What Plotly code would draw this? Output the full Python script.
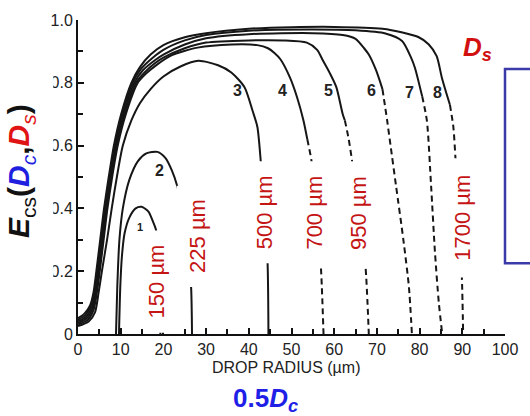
import plotly.graph_objects as go

# Collection efficiency curves E_cs vs drop radius, one per collector size (curves 1-8)
c1_x = [9.6, 9.9, 10.3, 10.9, 12.0, 13.5, 14.9, 16.5, 17.5, 18.3, 18.9, 19.2, 19.3]
c1_y = [0.0, 0.15, 0.25, 0.32, 0.37, 0.40, 0.405, 0.39, 0.36, 0.33, 0.22, 0.10, 0.0]

c2_x = [8.9, 9.2, 9.7, 10.5, 12.0, 14.0, 16.0, 18.6, 20.5, 22.0, 23.2, 24.5, 25.7, 26.5, 26.7]
c2_y = [0.0, 0.15, 0.30, 0.40, 0.49, 0.55, 0.575, 0.58, 0.56, 0.52, 0.473, 0.40, 0.28, 0.146, 0.0]

c3_x = [0, 2.5, 4.0, 4.8, 5.6, 6.8, 7.9, 9.1, 10.5, 12.5, 14.5, 17.0, 20.0, 24.0, 28.2,
        32.8, 35.9, 39.0, 40.9, 42.0, 42.8, 43.6, 44.4, 44.6]
c3_y = [0.025, 0.04, 0.07, 0.13, 0.2, 0.3, 0.4, 0.5, 0.6, 0.68, 0.735, 0.78, 0.82, 0.852, 0.87,
        0.856, 0.833, 0.786, 0.71, 0.66, 0.55, 0.4, 0.225, 0.0]

c4_x = [0, 2.3, 3.6, 4.4, 5.1, 6.0, 6.9, 8.0, 9.3, 11.2, 14.0, 16.0, 18.5, 22.0, 28.0,
        36.0, 42.0, 44.5, 46.0, 47.4, 49.7, 51.3, 52.8, 53.7, 54.7, 55.9, 56.9, 57.5]
c4_y = [0.03, 0.045, 0.075, 0.13, 0.2, 0.3, 0.4, 0.5, 0.6, 0.7, 0.8, 0.83, 0.858, 0.888, 0.912,
        0.922, 0.92, 0.91, 0.895, 0.875, 0.815, 0.754, 0.68, 0.62, 0.55, 0.38, 0.21, 0.0]

c5_x = [0, 2.1, 3.4, 4.2, 4.9, 5.8, 6.7, 7.8, 9.0, 10.9, 13.6, 15.6, 18.0, 20.0, 25.0,
        30.0, 40.0, 48.0, 53.6, 56.0, 57.4, 59.0, 60.5, 62.0, 62.5, 63.4, 64.2, 65.8, 67.3, 68.1]
c5_y = [0.035, 0.05, 0.08, 0.13, 0.2, 0.3, 0.4, 0.5, 0.6, 0.7, 0.8, 0.833, 0.862, 0.88, 0.91,
        0.928, 0.935, 0.935, 0.928, 0.905, 0.87, 0.83, 0.786, 0.70, 0.68, 0.62, 0.55, 0.38, 0.22, 0.0]

c6_x = [0, 1.9, 3.2, 4.0, 4.7, 5.6, 6.5, 7.6, 8.8, 10.6, 13.2, 15.2, 18.0, 20.0, 25.0,
        30.0, 40.0, 55.0, 62.0, 65.0, 67.0, 68.1, 69.8, 71.3, 72.4, 73.2, 74.5, 76.2, 77.5, 78.2]
c6_y = [0.04, 0.055, 0.085, 0.13, 0.2, 0.3, 0.4, 0.5, 0.6, 0.7, 0.8, 0.84, 0.872, 0.89, 0.922,
        0.942, 0.955, 0.958, 0.952, 0.94, 0.91, 0.89, 0.84, 0.78, 0.68, 0.60, 0.47, 0.30, 0.15, 0.0]

c7_x = [0, 1.7, 3.0, 3.8, 4.5, 5.4, 6.3, 7.4, 8.6, 10.3, 12.8, 14.8, 17.5, 20.0, 25.0,
        30.0, 40.0, 55.0, 65.0, 72.0, 75.9, 78.0, 78.9, 80.6, 81.7, 82.7, 83.6, 84.5, 85.3]
c7_y = [0.045, 0.06, 0.09, 0.13, 0.2, 0.3, 0.4, 0.5, 0.6, 0.7, 0.8, 0.845, 0.88, 0.905, 0.935,
        0.952, 0.966, 0.97, 0.967, 0.957, 0.933, 0.88, 0.848, 0.757, 0.68, 0.47, 0.26, 0.10, 0.0]

c8_x = [0, 1.5, 2.8, 3.6, 4.3, 5.2, 6.1, 7.2, 8.4, 10.1, 12.5, 14.5, 17.0, 20.0, 25.0,
        30.0, 40.0, 50.0, 60.0, 71.3, 76.0, 79.8, 82.1, 84.0, 85.2, 86.2, 87.1, 87.9, 88.4,
        89.2, 89.9, 90.2]
c8_y = [0.05, 0.065, 0.09, 0.13, 0.2, 0.3, 0.4, 0.5, 0.6, 0.7, 0.8, 0.85, 0.89, 0.92, 0.945,
        0.958, 0.972, 0.977, 0.978, 0.972, 0.96, 0.945, 0.923, 0.885, 0.817, 0.77, 0.73, 0.66, 0.56,
        0.37, 0.18, 0.0]

curves_x = [c1_x, c2_x, c3_x, c4_x, c5_x, c6_x, c7_x, c8_x]
curves_y = [c1_y, c2_y, c3_y, c4_y, c5_y, c6_y, c7_y, c8_y]
# radius beyond which each curve is drawn dashed (None = solid throughout)
dash_from = [None, None, None, 53.7, 62.5, 71.3, 80.6, 87.1]

curve_names = ["1", "2", "3", "4", "5", "6", "7", "8"]
curve_label_x = [14.5, 19.0, 37.4, 48.0, 58.7, 68.8, 77.7, 84.3]
curve_label_y = [0.34, 0.52, 0.775, 0.775, 0.775, 0.775, 0.77, 0.77]

# collector drop diameters D_s written along the cut-off lines
ds_labels = ["150 µm", "225 µm", "500 µm", "700 µm", "950 µm", "1700 µm"]
ds_label_x = [18.3, 28.0, 43.75, 55.3, 65.7, 90.0]
ds_label_y = [0.168, 0.311, 0.387, 0.387, 0.384, 0.371]
# white backing panels behind those labels: (x0, x1, y0, y1)
ds_boxes = [(15.3, 21.3, 0.004, 0.33), (23.1, 32.5, 0.15, 0.472), (40.5, 47.2, 0.225, 0.55),
            (52.3, 58.5, 0.21, 0.55), (62.7, 68.8, 0.22, 0.55), (86.6, 93.5, 0.18, 0.56)]

x_ticks = [0, 10, 20, 30, 40, 50, 60, 70, 80, 90, 100]
y_ticks = [0, 0.2, 0.4, 0.6, 0.8, 1.0]
y_tick_text = ["0", "0.2", "0.4", "0.6", "0.8", "1.0"]

LINE = "#161616"
fig = go.Figure()

for xs, ys, cut in zip(curves_x, curves_y, dash_from):
    if cut is None:
        parts = [(xs, ys, "solid")]
    else:
        i = xs.index(cut)
        parts = [(xs[:i + 1], ys[:i + 1], "solid"), (xs[i:], ys[i:], "6px,4px")]
    for px, py, dash in parts:
        fig.add_trace(go.Scatter(
            x=px, y=py, mode="lines",
            line=dict(color=LINE, width=2, dash=dash, shape="spline", smoothing=0.7),
            showlegend=False, hoverinfo="skip"))

for x0, x1, y0, y1 in ds_boxes:
    fig.add_shape(type="rect", xref="x", yref="y", x0=x0, x1=x1, y0=y0, y1=y1,
                  fillcolor="white", line=dict(width=0), layer="above")

CENTER = dict(xanchor="center", yanchor="middle", showarrow=False)

for t, x, y in zip(curve_names, curve_label_x, curve_label_y):
    fig.add_annotation(x=x, y=y, text=f"<b>{t}</b>", **CENTER,
                       font=dict(family="Liberation Sans", size=11 if t == "1" else 16, color="#222"))

for t, x, y in zip(ds_labels, ds_label_x, ds_label_y):
    fig.add_annotation(x=x, y=y, text=t, textangle=-90, **CENTER,
                       font=dict(family="Liberation Sans", size=22, color="#c41414"))

# white panel behind the vertical axis title
fig.add_shape(type="rect", xref="paper", yref="paper",
              x0=-0.19, x1=-0.058, y0=0.11, y1=0.87,
              fillcolor="white", line=dict(width=0), layer="above")

# frame on the right edge
fig.add_shape(type="rect", xref="paper", yref="paper",
              x0=1.0, x1=1.12, y0=0.225, y1=0.844,
              fillcolor="rgba(0,0,0,0)", line=dict(color="#3a3aa8", width=2.5), layer="above")

fig.add_annotation(
    xref="paper", yref="paper", x=-0.133, y=0.52, textangle=-90, **CENTER,
    text=("<b><i>E</i></b><sub>cs</sub><b>(</b>"
          "<span style='color:#1f1fe0'><b><i>D</i></b><sub><i>c</i></sub></span><b>,</b>"
          "<span style='color:#e01414'><b><i>D</i></b><sub><i>s</i></sub></span><b>)</b>"),
    font=dict(family="Liberation Sans", size=30, color="#111"))

fig.add_annotation(
    xref="paper", yref="paper", x=0.935, y=0.908, **CENTER,
    text="<b><i>D</i></b><sub><b><i>s</i></b></sub>",
    font=dict(family="Liberation Sans", size=26, color="#d21010"))

fig.add_annotation(
    xref="paper", yref="paper", x=0.44, y=-0.21, **CENTER,
    text="<b>0.5<i>D</i><sub><i>c</i></sub></b>",
    font=dict(family="Liberation Sans", size=26, color="#1f1fe8"))

fig.add_annotation(
    xref="paper", yref="paper", x=0.486, y=-0.108, **CENTER,
    text="DROP RADIUS (µm)",
    font=dict(family="Liberation Sans", size=16, color="#222"))

axis_common = dict(showline=True, linecolor="#111", linewidth=2, ticks="inside",
                   tickcolor="#111", tickwidth=1.5, ticklen=6, showgrid=False, zeroline=False,
                   tickfont=dict(family="Liberation Sans", size=16, color="#222"))

fig.update_layout(
    width=530, height=416,
    margin=dict(l=78, r=20, t=19, b=82),
    paper_bgcolor="white", plot_bgcolor="white",
    xaxis=dict(range=[0, 100], tickvals=x_ticks, **axis_common,
               minor=dict(dtick=5, ticks="inside", ticklen=5, tickcolor="#111", tickwidth=1.5)),
    yaxis=dict(range=[0, 1], tickvals=y_ticks, ticktext=y_tick_text, **axis_common,
               minor=dict(dtick=0.1, ticks="inside", ticklen=5, tickcolor="#111", tickwidth=1.5)),
)

fig.write_html("out.html")
